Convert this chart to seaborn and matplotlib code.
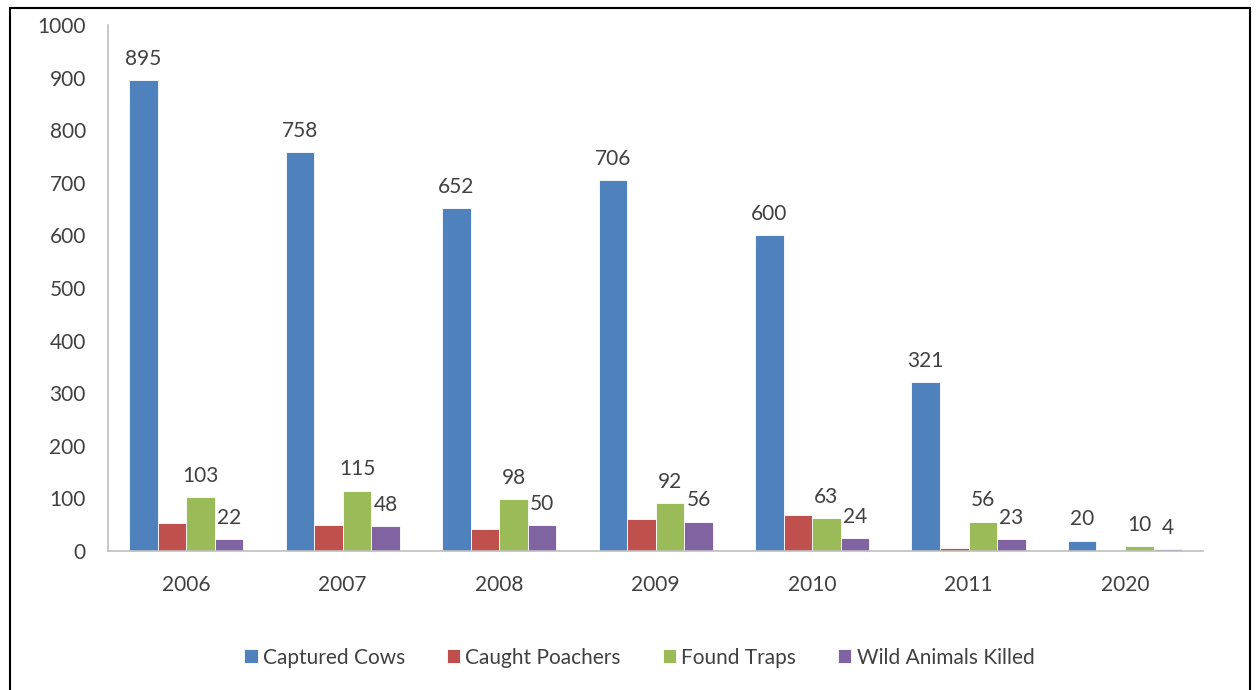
import pandas as pd
import matplotlib.pyplot as plt
import seaborn as sns
from matplotlib.patches import Rectangle

# values
years = ['2006', '2007', '2008', '2009', '2010', '2011', '2020']
captured_cows = [895, 758, 652, 706, 600, 321, 20]
caught_poachers = [54, 50, 41, 60, 68, 6, 1]
found_traps = [103, 115, 98, 92, 63, 56, 10]
wild_animals_killed = [22, 48, 50, 56, 24, 23, 4]

series_names = ['Captured Cows', 'Caught Poachers', 'Found Traps', 'Wild Animals Killed']
colors = ['#4F81BD', '#C0504D', '#9BBB59', '#8064A2']

# long-form table for seaborn
df = pd.DataFrame({
    'Year': years * 4,
    'Series': [s for s in series_names for _ in years],
    'Value': captured_cows + caught_poachers + found_traps + wild_animals_killed,
})

sns.set_style('white')
plt.rcParams['font.family'] = ['Lato', 'DejaVu Sans']
fs = 15

fig = plt.figure(figsize=(12.56, 6.9), dpi=100)
ax = fig.add_axes([0.086, 0.2014, 0.872, 0.7624])

sns.barplot(data=df, x='Year', y='Value', hue='Series', hue_order=series_names,
            palette=colors, width=0.73, gap=0, saturation=1, ax=ax,
            edgecolor='white', linewidth=0.6)

# labels on every series except Caught Poachers
for i, cont in enumerate(ax.containers):
    if i == 1:
        continue
    ax.bar_label(cont, fmt='%d', padding=8, fontsize=fs, color='#404040')

ax.set_ylim(0, 1000)
ax.set_yticks(range(0, 1001, 100))
ax.set_xlabel('')
ax.set_ylabel('')
ax.tick_params(axis='both', length=0, labelsize=fs, labelcolor='#404040')
ax.tick_params(axis='y', pad=16)
ax.tick_params(axis='x', pad=17)

for side in ['top', 'right']:
    ax.spines[side].set_visible(False)
for side in ['left', 'bottom']:
    ax.spines[side].set_color('#BFBFBF')
    ax.spines[side].set_linewidth(1.2)

ax.legend(loc='upper center', bbox_to_anchor=(0.485, -0.148), ncol=4, frameon=False,
          fontsize=fs, handlelength=0.65, handleheight=0.65, handletextpad=0.25,
          columnspacing=2.0, labelcolor='#404040')

# outer black frame
fig.patches.append(Rectangle((10 / 1256, -0.02), 1240 / 1256, 1 - 8 / 690 + 0.02,
                             transform=fig.transFigure, fill=False,
                             edgecolor='black', linewidth=1.5))

plt.savefig('out.png', dpi=100)
plt.close()
